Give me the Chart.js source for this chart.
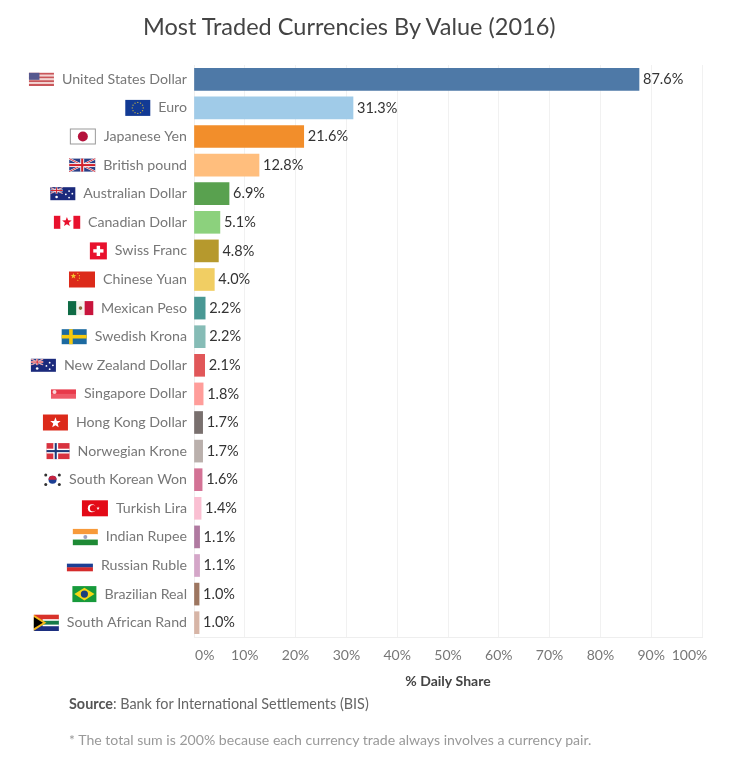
<!DOCTYPE html>
<html>
<head>
<meta charset="utf-8">
<title>Most Traded Currencies By Value (2016)</title>
<script src="https://cdn.jsdelivr.net/npm/chart.js@4/dist/chart.umd.min.js"></script>
<style>
  body { margin: 0; background: #fff; }
  #wrap { position: relative; width: 732px; height: 763px; overflow: hidden; font-family: "Lato", sans-serif; }
  #myChart { position: absolute; left: 0; top: 0; }
  .txt { position: absolute; white-space: nowrap; margin: 0; font-weight: normal; }
  #title { left: 143px; top: 10px; font-size: 23.5px; line-height: 32px; color: #444; }
  #source { left: 69px; top: 695px; font-size: 14.4px; line-height: 18px; color: #666; }
  #source b { color: #555; font-weight: 700; }
  #note { left: 69px; top: 731px; font-size: 14.1px; line-height: 18px; color: #999; }
</style>
</head>
<body>
<div id="wrap">
  <canvas id="myChart" width="732" height="763"></canvas>
  <h1 class="txt" id="title">Most Traded Currencies By Value (2016)</h1>
  <p class="txt" id="source"><b>Source</b>: Bank for International Settlements (BIS)</p>
  <p class="txt" id="note">* The total sum is 200% because each currency trade always involves a currency pair.</p>
</div>
<script>
const categories = ['United States Dollar', 'Euro', 'Japanese Yen', 'British pound', 'Australian Dollar', 'Canadian Dollar', 'Swiss Franc', 'Chinese Yuan', 'Mexican Peso', 'Swedish Krona', 'New Zealand Dollar', 'Singapore Dollar', 'Hong Kong Dollar', 'Norwegian Krone', 'South Korean Won', 'Turkish Lira', 'Indian Rupee', 'Russian Ruble', 'Brazilian Real', 'South African Rand'];
const shares = [87.6, 31.3, 21.6, 12.8, 6.9, 5.1, 4.8, 4.0, 2.2, 2.2, 2.1, 1.8, 1.7, 1.7, 1.6, 1.4, 1.1, 1.1, 1.0, 1.0];
const barColors = ['#4e79a7', '#a0cbe8', '#f28e2b', '#ffbe7d', '#59a14f', '#8cd17d', '#b6992d', '#f1ce63', '#499894', '#86bcb6', '#e15759', '#ff9d9a', '#79706e', '#bab0ac', '#d37295', '#fabfd2', '#b07aa1', '#d4a6c8', '#9d7660', '#d7b5a6'];
const tickValues = [0, 10, 20, 30, 40, 50, 60, 70, 80, 90, 100];

const labelFont = '14.2px Lato';

/* petits drapeaux, dessines dans une boite w x h */
function rect(c, col, x, y, w, h) { c.fillStyle = col; c.fillRect(x, y, w, h); }
function disc(c, col, x, y, r) { c.fillStyle = col; c.beginPath(); c.arc(x, y, r, 0, Math.PI * 2); c.fill(); }
function hBands(c, cols, w, h) { cols.forEach(function (col, i) { rect(c, col, 0, h * i / cols.length, w, h / cols.length + .3); }); }
function vBands(c, cols, w, h) { cols.forEach(function (col, i) { rect(c, col, w * i / cols.length, 0, w / cols.length + .3, h); }); }
function cross(c, col, w, h, cx, t) { rect(c, col, cx - t / 2, 0, t, h); rect(c, col, 0, h / 2 - t / 2, w, t); }
function union(c, w, h) {
  rect(c, '#2a3f86', 0, 0, w, h);
  c.lineWidth = h * .16; c.strokeStyle = '#fff';
  c.beginPath(); c.moveTo(0, 0); c.lineTo(w, h); c.moveTo(w, 0); c.lineTo(0, h); c.stroke();
  c.lineWidth = h * .07; c.strokeStyle = '#d2232e';
  c.beginPath(); c.moveTo(0, 0); c.lineTo(w, h); c.moveTo(w, 0); c.lineTo(0, h); c.stroke();
  cross(c, '#fff', w, h, w / 2, h * .3);
  cross(c, '#d2232e', w, h, w / 2, h * .16);
}
function ensign(c, w, h) {
  rect(c, '#1b2a7c', 0, 0, w, h);
  c.save(); c.beginPath(); c.rect(0, 0, w * .5, h * .5); c.clip();
  c.scale(.5, .5); union(c, w, h); c.restore();
  disc(c, '#fff', w * .75, h * .3, .9); disc(c, '#fff', w * .75, h * .8, .9); disc(c, '#fff', w * .62, h * .55, .9); disc(c, '#fff', w * .88, h * .5, .9); disc(c, '#fff', w * .25, h * .75, 1.3);
}
function star(c, col, cx, cy, r) {
  c.fillStyle = col; c.beginPath();
  for (let i = 0; i < 10; i++) {
    const a = -Math.PI / 2 + i * Math.PI / 5;
    const d = i % 2 ? r * .42 : r;
    c.lineTo(cx + d * Math.cos(a), cy + d * Math.sin(a));
  }
  c.closePath(); c.fill();
}
const flags = {
  'United States Dollar': [25, 13, function (c, w, h) {
    for (let i = 0; i < 7; i++) rect(c, i % 2 ? '#f3d5d3' : '#c9565a', 0, h * i / 7, w, h / 7 + .2);
    rect(c, '#56588f', 0, 0, w * .42, h * .54);
  }],
  'Euro': [25, 16, function (c, w, h) {
    rect(c, '#123a94', 0, 0, w, h);
    for (let i = 0; i < 12; i++) disc(c, '#b8a94a', w / 2 + 5.5 * Math.cos(i * Math.PI / 6), h / 2 + 5.5 * Math.sin(i * Math.PI / 6), .7);
  }],
  'Japanese Yen': [26, 16, function (c, w, h) {
    rect(c, '#fff', 0, 0, w, h);
    c.strokeStyle = '#999'; c.lineWidth = 1; c.strokeRect(.5, .5, w - 1, h - 1);
    disc(c, '#b5123c', w / 2, h / 2, 5);
  }],
  'British pound': [26, 13, union],
  'Australian Dollar': [25, 13, ensign],
  'Canadian Dollar': [26, 13, function (c, w, h) {
    vBands(c, ['#e8112d', '#fff', '#fff', '#e8112d'], w, h);
    star(c, '#e8112d', w / 2, h * .48, 5);
  }],
  'Swiss Franc': [17, 17, function (c, w, h) {
    rect(c, '#e8112d', 0, 0, w, h);
    rect(c, '#fff', w * .4, h * .2, w * .2, h * .6);
    rect(c, '#fff', w * .2, h * .4, w * .6, h * .2);
  }],
  'Chinese Yuan': [26, 16, function (c, w, h) {
    rect(c, '#dc2a1a', 0, 0, w, h);
    star(c, '#f2c430', w * .17, h * .28, 3);
    disc(c, '#f2c430', w * .34, h * .12, .6); disc(c, '#f2c430', w * .4, h * .26, .6); disc(c, '#f2c430', w * .4, h * .42, .6); disc(c, '#f2c430', w * .34, h * .55, .6);
  }],
  'Mexican Peso': [25, 14, function (c, w, h) {
    vBands(c, ['#0f6b45', '#f6f3ee', '#c8143c'], w, h);
    disc(c, '#8a6a3c', w / 2, h / 2, 1.8);
  }],
  'Swedish Krona': [25, 15, function (c, w, h) {
    rect(c, '#1c6aa0', 0, 0, w, h);
    cross(c, '#f6c90e', w, h, w * .37, h * .24);
  }],
  'New Zealand Dollar': [25, 13, ensign],
  'Singapore Dollar': [25, 9, function (c, w, h) {
    hBands(c, ['#e8394a', '#ee5a68'], w, h);
    disc(c, '#f9d5d8', w * .14, h * .3, 2);
  }],
  'Hong Kong Dollar': [25, 16, function (c, w, h) {
    rect(c, '#dc2a1a', 0, 0, w, h);
    star(c, '#fff', w / 2, h * .52, 5.5);
  }],
  'Norwegian Krone': [23, 16, function (c, w, h) {
    rect(c, '#d8323f', 0, 0, w, h);
    cross(c, '#fff', w, h, w * .4, h * .3);
    cross(c, '#1f3a78', w, h, w * .4, h * .13);
  }],
  'South Korean Won': [17, 15, function (c, w, h) {
    rect(c, '#fff', 0, 0, w, h);
    disc(c, '#1c3f94', w / 2, h / 2, 4);
    c.fillStyle = '#c9243f'; c.beginPath(); c.arc(w / 2, h / 2, 4, Math.PI, 0); c.fill();
    [[.1, .18], [.9, .18], [.1, .82], [.9, .82]].forEach(function (p) { disc(c, '#333', w * p[0], h * p[1], 1.5); });
  }],
  'Turkish Lira': [26, 16, function (c, w, h) {
    rect(c, '#e30a17', 0, 0, w, h);
    disc(c, '#fff', w * .38, h / 2, 4);
    disc(c, '#e30a17', w * .43, h / 2, 3.2);
    star(c, '#fff', w * .62, h / 2, 1.8);
  }],
  'Indian Rupee': [25, 16, function (c, w, h) {
    hBands(c, ['#f79a3a', '#fff', '#1e8a35'], w, h);
    disc(c, '#9aa0c0', w / 2, h / 2, 2);
  }],
  'Russian Ruble': [26, 11, function (c, w, h) { hBands(c, ['#fff', '#1c3f94', '#d52b2b'], w, h); }],
  'Brazilian Real': [24, 16, function (c, w, h) {
    rect(c, '#179a3b', 0, 0, w, h);
    c.fillStyle = '#f7d716'; c.beginPath();
    c.moveTo(w * .08, h / 2); c.lineTo(w / 2, h * .1); c.lineTo(w * .92, h / 2); c.lineTo(w / 2, h * .9); c.closePath(); c.fill();
    disc(c, '#1c3f7c', w / 2, h / 2, 3.6);
  }],
  'South African Rand': [25, 16, function (c, w, h) {
    hBands(c, ['#d8322a', '#157a4a', '#1c2f80'], w, h);
    rect(c, '#fff', w * .35, h * .28, w * .65, h * .44);
    rect(c, '#157a4a', w * .35, h * .38, w * .65, h * .24);
    c.fillStyle = '#f5b81a'; c.beginPath(); c.moveTo(0, 0); c.lineTo(w * .5, h / 2); c.lineTo(0, h); c.closePath(); c.fill();
    c.fillStyle = '#000'; c.beginPath(); c.moveTo(0, h * .15); c.lineTo(w * .36, h / 2); c.lineTo(0, h * .85); c.closePath(); c.fill();
  }]
};

/* valeurs au bout des barres */
const valueLabels = {
  id: 'valueLabels',
  afterDatasetsDraw: function (chart) {
    const c = chart.ctx;
    c.save();
    c.font = '14.5px Lato';
    c.fillStyle = '#333';
    c.textAlign = 'left';
    c.textBaseline = 'middle';
    chart.getDatasetMeta(0).data.forEach(function (bar, i) {
      c.fillText(shares[i].toFixed(1) + '%', bar.x + 4, bar.y);
    });
    c.restore();
  }
};

/* drapeaux a gauche des noms */
const flagIcons = {
  id: 'flagIcons',
  afterDraw: function (chart) {
    const c = chart.ctx;
    const yScale = chart.scales.y;
    c.save();
    c.font = labelFont;
    categories.forEach(function (name, i) {
      const f = flags[name];
      const right = chart.chartArea.left - 7 - c.measureText(name).width - 8;
      c.save();
      c.translate(right - f[0], yScale.getPixelForValue(i) - f[1] / 2);
      f[2](c, f[0], f[1]);
      c.restore();
    });
    c.restore();
  }
};

new Chart(document.getElementById('myChart'), {
  type: 'bar',
  data: {
    labels: categories,
    datasets: [{ data: shares, backgroundColor: barColors, barThickness: 22 }]
  },
  plugins: [valueLabels, flagIcons],
  options: {
    indexAxis: 'y',
    responsive: false,
    animation: false,
    layout: { padding: { top: 65, right: 30, bottom: 73, left: 0 } },
    plugins: { legend: { display: false }, title: { display: false }, tooltip: { enabled: false } },
    scales: {
      x: {
        min: 0,
        max: 100,
        afterBuildTicks: function (axis) { axis.ticks = tickValues.map(function (v) { return { value: v }; }); },
        afterFit: function (axis) { axis.height = 53; axis.paddingLeft = 0; axis.paddingRight = 0; },
        grid: { color: '#f1f1f1', drawTicks: false },
        border: { color: '#eeeeee' },
        ticks: {
          padding: 10,
          maxRotation: 0,
          autoSkip: false,
          color: '#777',
          font: { family: 'Lato', size: 14 },
          /* le 0% et le 100% sont decales vers l'interieur avec des espaces */
          callback: function (v) {
            if (v === 0) return '      0%';
            if (v === 100) return '100%       ';
            return v + '%';
          }
        },
        title: { display: true, text: '% Daily Share', color: '#444', font: { family: 'Lato', size: 14, weight: 'bold' }, padding: 0 }
      },
      y: {
        afterFit: function (axis) { axis.width = 194; },
        grid: { display: false, drawTicks: false },
        border: { color: '#eeeeee' },
        ticks: { padding: 7, autoSkip: false, color: '#777', font: { family: 'Lato', size: 14.2 } }
      }
    }
  }
});
</script>
</body>
</html>
